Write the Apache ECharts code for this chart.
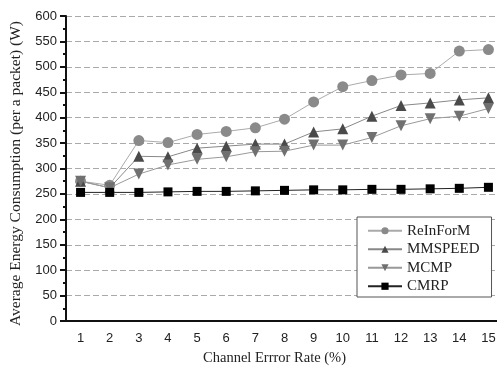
<!DOCTYPE html>
<html>
<head>
<meta charset="utf-8">
<script src="https://cdn.jsdelivr.net/npm/echarts@6/dist/echarts.min.js"></script>
<style>
  html, body { margin: 0; padding: 0; background: #fff; }
  #chart { width: 497px; height: 371px; }
</style>
</head>
<body>
<div id="chart"></div>
<script>
const errorRates = ['1', '2', '3', '4', '5', '6', '7', '8', '9', '10', '11', '12', '13', '14', '15'];

const reinform = [275, 267, 355, 351, 367, 373, 380, 397, 431, 461, 473, 484, 487, 531, 534];
const mmspeed  = [275, 262, 324, 323, 340, 344, 348, 348, 372, 378, 403, 424, 429, 435, 439];
const mcmp     = [275, 262, 289, 307, 318, 323, 333, 334, 346, 346, 361, 384, 398, 403, 418];
const cmrp     = [253, 253, 253, 254, 255, 255, 256, 257, 258, 258, 259, 259, 260, 261, 263];

const SERIF = "'Liberation Serif', 'DejaVu Serif', serif";
const SANS = "'Liberation Sans', Arial, sans-serif";

function lineSeries(name, data, symbol, size, markColor, lineColor) {
  return {
    name,
    type: 'line',
    data,
    symbol,
    symbolSize: size,
    itemStyle: { color: markColor },
    lineStyle: { color: lineColor, width: 1 },
    emphasis: { disabled: true },
    z: 3,
  };
}

const chart = echarts.init(document.getElementById('chart'));

chart.setOption({
  animation: false,
  grid: { left: 66, right: -6, top: 16, bottom: 50, outerBoundsMode: 'none', containLabel: false },
  legend: {
    orient: 'vertical',
    left: 357,
    top: 217,
    itemWidth: 34,
    itemHeight: 9,
    itemGap: 1,
    padding: [5, 12, 2, 10],
    backgroundColor: '#fff',
    borderColor: '#555',
    borderWidth: 1,
    textStyle: { fontFamily: SERIF, fontSize: 15, lineHeight: 17.5, color: '#222' },
    data: ['ReInForM', 'MMSPEED', 'MCMP', 'CMRP'],
  },
  xAxis: [
    {
      type: 'category',
      data: errorRates,
      name: 'Channel Errror Rate (%)',
      nameLocation: 'middle',
      nameGap: 30,
      nameTextStyle: { fontFamily: SERIF, fontSize: 14.5, color: '#222', padding: [0, 0, 0, -20] },
      axisLine: { lineStyle: { color: '#111', width: 2 } },
      axisTick: { alignWithLabel: true, length: 5, lineStyle: { color: '#111', width: 2 } },
      axisLabel: { fontFamily: SANS, fontSize: 13, color: '#222', margin: 11 },
      splitLine: { show: false },
    },
    {
      type: 'category',
      data: errorRates,
      position: 'bottom',
      axisLine: { show: false },
      axisTick: { length: 3, lineStyle: { color: '#111', width: 2 } },
      axisLabel: { show: false },
      splitLine: { show: false },
    },
  ],
  yAxis: {
    type: 'value',
    min: 0,
    max: 600,
    interval: 50,
    name: 'Average Energy Consumption (per a packet) (W)',
    nameLocation: 'middle',
    nameGap: 38,
    nameTextStyle: { fontFamily: SERIF, fontSize: 15.5, color: '#222', padding: [0, 10, 0, 0] },
    axisLine: { show: true, lineStyle: { color: '#111', width: 2 } },
    axisTick: { show: true, length: 6, lineStyle: { color: '#111', width: 2 } },
    minorTick: { show: true, splitNumber: 2, length: 3, lineStyle: { color: '#111', width: 2 } },
    axisLabel: { fontFamily: SANS, fontSize: 13, color: '#222', margin: 9 },
    splitLine: { show: true, lineStyle: { color: '#aaa', type: [6, 3], width: 1 } },
  },
  series: [
    lineSeries('ReInForM', reinform, 'circle', 11, '#8a8a8a', '#aaaaaa'),
    lineSeries('MMSPEED', mmspeed, 'triangle', 11, '#4a4a4a', '#888888'),
    lineSeries('MCMP', mcmp, 'path://M0,0 L10,0 L5,9 Z', 11, '#707070', '#999999'),
    lineSeries('CMRP', cmrp, 'rect', 9, '#000000', '#222222'),
  ],
});
</script>
</body>
</html>
